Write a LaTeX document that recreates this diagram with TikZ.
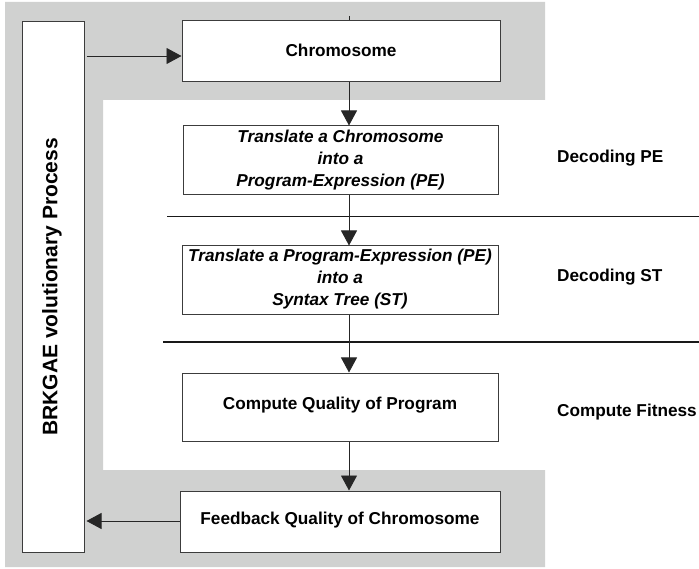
\documentclass[tikz,border=0pt]{standalone}
\usepackage{fontspec}
\setmainfont{Liberation Sans}
\usetikzlibrary{arrows.meta,calc}
\definecolor{bandgrey}{RGB}{208,209,208}
\definecolor{boxline}{RGB}{60,60,60}
\tikzset{
  stagebox/.style={draw=boxline, line width=1pt, fill=white, inner sep=0pt,
    align=center, font=\fontsize{17.2}{22}\selectfont\bfseries},
  steptext/.style={font=\fontsize{17.2}{22}\selectfont\bfseries\itshape},
  phaselabel/.style={anchor=west, inner sep=0pt, font=\fontsize{17.2}{22}\selectfont\bfseries},
  flow/.style={line width=0.9pt, draw=black!85, -{Triangle[length=15pt,width=16pt]}},
  separator/.style={line width=1.8pt, draw=black!90},
}
\begin{document}
\begin{tikzpicture}[x=1pt,y=-1pt]
\useasboundingbox (0,0) rectangle (699,569);
% grey frame around the evolutionary loop
\fill[bandgrey] (5,2) -- (545,2) -- (545,100) -- (103,100) -- (103,470)
  -- (545,470) -- (545,567) -- (5,567) -- cycle;

% process column on the left
\node[stagebox, minimum width=62pt, minimum height=530pt] (proc) at (53,287) {};
\node[rotate=90, inner sep=0pt, font=\fontsize{21}{24}\selectfont\bfseries] (proclabel)
  at (52,287) {BRKGAE volutionary Process};

% stages
\node[stagebox, minimum width=318pt, minimum height=61pt] (chrom) at (341,51.5) {};
\node[inner sep=0pt, font=\fontsize{17.2}{22}\selectfont\bfseries] (chromtext) at (341,50) {Chromosome};

\node[stagebox, minimum width=315pt, minimum height=69pt] (pe) at (340.5,160.5) {};
\node[steptext, align=center, inner sep=0pt] (petext) at (340.5,160)
  {Translate a Chromosome\\into a\\Program-Expression (PE)};

\node[stagebox, minimum width=316pt, minimum height=69pt] (st) at (340,280.5) {};
\node[steptext, align=center, inner sep=0pt] (sttext) at (340,279.5)
  {Translate a Program-Expression (PE)\\into a\\Syntax Tree (ST)};

\node[stagebox, minimum width=316pt, minimum height=68pt] (qual) at (340,407) {};
\node[inner sep=0pt, font=\fontsize{17.2}{22}\selectfont\bfseries] (qualtext) at (340,405)
  {Compute Quality of Program};

\node[stagebox, minimum width=320pt, minimum height=61pt] (feed) at (340,521.5) {};
\node[inner sep=0pt, font=\fontsize{17.2}{22}\selectfont\bfseries] (feedtext) at (340,520)
  {Feedback Quality of Chromosome};

% phase labels and separators
\node[phaselabel] (lpe) at (557,158) {Decoding PE};
\node[phaselabel] (lst) at (557,277) {Decoding ST};
\node[phaselabel] (lfit) at (557,412) {Compute Fitness};

\coordinate (sepA) at (167,216.5);
\coordinate (sepAend) at (699,216.5);
\coordinate (sepB) at (163,342);
\coordinate (sepBend) at (699,342);
\draw[separator] (sepA) -- (sepAend);
\draw[separator] (sepB) -- (sepBend);

% flow arrows
\coordinate (axis) at (349,0);
\coordinate (tick) at (349,16);
\draw[line width=0.9pt, draw=black!85] (tick) -- (chrom.north -| axis);
\draw[flow] (chrom.south -| axis) -- (pe.north -| axis);
\draw[flow] (pe.south -| axis) -- (st.north -| axis);
\draw[flow] (st.south -| axis) -- (qual.north -| axis);
\draw[flow] (qual.south -| axis) -- (feed.north -| axis);

\coordinate (inY) at (0,56);
\coordinate (outY) at (0,521);
\draw[flow] ($(proc.east |- inY)+(2,0)$) -- (chrom.west |- inY);
\draw[flow] (feed.west |- outY) -- ($(proc.east |- outY)+(2,0)$);
\end{tikzpicture}
\end{document}
